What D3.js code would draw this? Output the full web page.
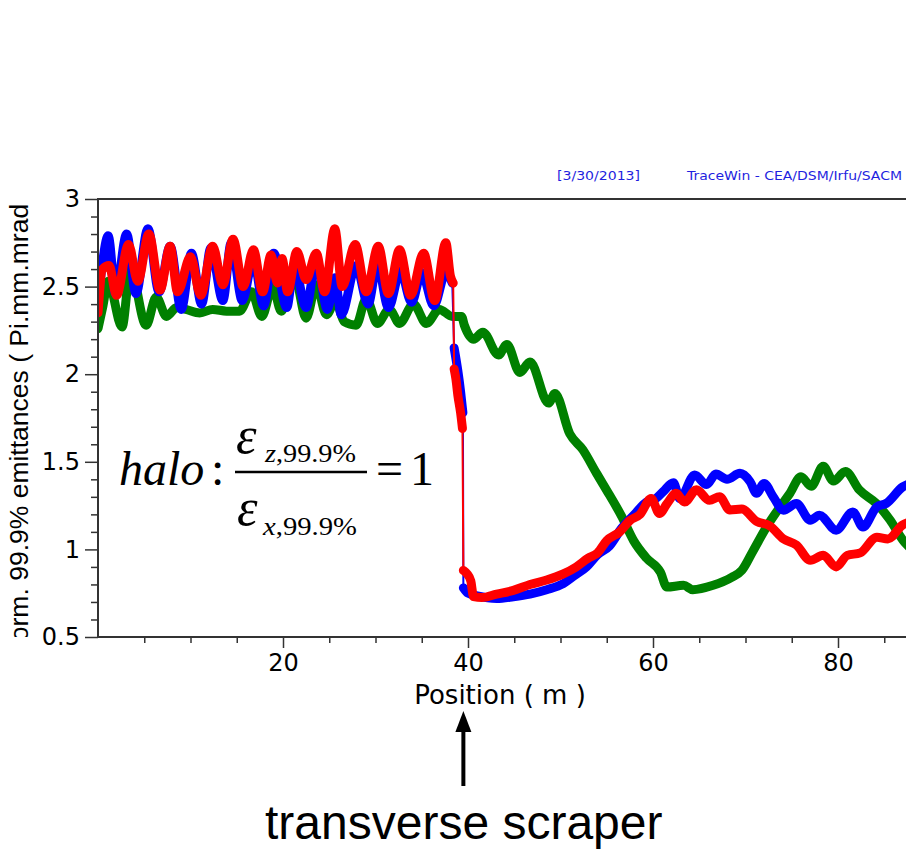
<!DOCTYPE html>
<html>
<head>
<meta charset="utf-8">
<script src="https://cdn.jsdelivr.net/npm/d3@7"></script>
<style>
  html, body { margin: 0; padding: 0; background: #fff; }
  svg { display: block; }
</style>
</head>
<body>
<script>
const width = 906;
const height = 852;

// emittance along the linac (position m, value pi.mm.mrad)
const greenZ = [[0,2.26],[0.5,2.38],[1.1,2.53],[2.6,2.27],[3.5,2.60],[5.2,2.28],[6.3,2.44],[7.4,2.33],[8.5,2.38],[9.5,2.37],[11,2.35],[12.4,2.37],[13.9,2.36],[15.3,2.36],[16.6,2.47],[17.7,2.33],[18.9,2.50],[19.8,2.36],[21.3,2.55],[22.5,2.32],[23.6,2.51],[24.7,2.34],[25.7,2.42],[26.6,2.30],[27.9,2.28],[29.0,2.43],[30.2,2.29],[31.5,2.37],[32.6,2.29],[34.1,2.40],[35.5,2.29],[36.9,2.37],[38.3,2.33],[39.3,2.33],[39.6,2.28],[40.6,2.2],[41.6,2.24],[43.3,2.11],[44.2,2.17],[45.6,2.01],[46.7,2.07],[48.7,1.835],[49.4,1.89],[51,1.66],[52.4,1.57],[53.9,1.434],[55.3,1.31],[56.6,1.19],[57.9,1.05],[59.3,0.95],[60.8,0.87],[61.5,0.785],[63.3,0.795],[64.3,0.77],[66.5,0.795],[68.5,0.84],[69.6,0.88],[70.8,0.99],[72.3,1.13],[73.7,1.24],[74.8,1.32],[76.0,1.415],[77.1,1.36],[78.4,1.475],[79.5,1.39],[80.8,1.445],[82.3,1.34],[84.2,1.26],[85.6,1.17],[87.2,1.04],[88,1.0]];

const blueMain = [[0,2.42],[0.4,2.6],[1.1,2.79],[1.9,2.46],[3.1,2.80],[4.1,2.46],[5.4,2.83],[6.6,2.47],[7.8,2.73],[9.0,2.37],[10.1,2.69],[11.2,2.40],[12.2,2.72],[13.5,2.42],[14.4,2.75],[15.6,2.42],[16.8,2.66],[17.9,2.39],[19.0,2.69],[20.4,2.38],[21.2,2.62],[22.5,2.38],[23.6,2.65],[24.8,2.37],[25.6,2.55],[26.3,2.34],[27.9,2.62],[29.2,2.40],[30.2,2.63],[31.4,2.38],[32.7,2.59],[33.9,2.41],[35.0,2.58],[36.3,2.39],[37.6,2.58],[38.3,2.52]];
const blueDrop = [[38.5,2.15],[38.9,2.02],[39.2,1.9],[39.45,1.78]];
const blueLow = [[39.5,0.78],[40.0,0.75],[41.0,0.735],[43.1,0.72],[44.9,0.73],[46.7,0.745],[48.5,0.77],[50.3,0.805],[51.5,0.85],[52.8,0.9],[54.0,0.97],[55.3,1.02],[56.6,1.12],[58.0,1.2],[59.3,1.27],[60.3,1.29],[61.1,1.33],[62.2,1.38],[62.9,1.29],[64.5,1.425],[65.8,1.37],[66.8,1.43],[68.0,1.40],[69.4,1.434],[70.5,1.386],[71.2,1.32],[72.0,1.376],[73.0,1.30],[74.1,1.224],[75.5,1.262],[77.0,1.167],[78.0,1.195],[79.8,1.11],[81.6,1.214],[82.7,1.128],[84.2,1.243],[85.2,1.262],[87.0,1.357],[88,1.38]];

const redMain = [[0,2.35],[0.5,2.6],[1.2,2.62],[2.0,2.45],[3.3,2.74],[4.3,2.53],[5.5,2.80],[6.7,2.48],[7.8,2.73],[8.6,2.47],[10.0,2.67],[11.1,2.45],[12.4,2.73],[13.5,2.51],[14.6,2.77],[15.7,2.50],[16.8,2.71],[17.8,2.47],[18.7,2.68],[19.4,2.52],[19.9,2.66],[20.5,2.47],[21.5,2.70],[22.5,2.54],[23.6,2.69],[24.5,2.47],[25.6,2.83],[26.4,2.50],[27.8,2.74],[29.0,2.47],[30.3,2.73],[31.4,2.46],[32.6,2.71],[33.8,2.45],[35.2,2.69],[36.4,2.42],[37.6,2.75],[38.1,2.56],[38.4,2.52]];
const redDrop = [[38.5,2.03],[38.7,1.97],[38.9,1.88],[39.2,1.78],[39.4,1.69]];
const redLow = [[39.5,0.88],[39.9,0.86],[40.3,0.82],[40.6,0.73],[41.5,0.725],[43.1,0.745],[44.9,0.766],[46.7,0.80],[48.5,0.825],[50.3,0.86],[51.7,0.90],[53.0,0.95],[54.0,0.98],[55.0,1.05],[56.4,1.10],[57.5,1.165],[58.6,1.2],[59.8,1.29],[60.7,1.205],[61.5,1.26],[62.5,1.32],[63.4,1.27],[64.7,1.34],[66.1,1.28],[67.2,1.30],[68.3,1.225],[69.6,1.23],[71.2,1.16],[72.6,1.135],[74.1,1.06],[75.5,1.025],[77.0,0.938],[78.4,0.966],[79.8,0.90],[81.0,0.966],[82.4,0.98],[84.2,1.07],[85.4,1.06],[87.0,1.14],[88,1.16]];

const series = [
  {color: "#008000", parts: [greenZ]},
  {color: "#0000ff", parts: [blueMain, blueDrop, blueLow]},
  {color: "#ff0000", parts: [redMain, redDrop, redLow]}
];

const xMajor = [20, 40, 60, 80];
const xMinor = d3.range(5, 90, 5).filter(d => d % 20 !== 0);
const yMajor = [0.5, 1, 1.5, 2, 2.5, 3];
const yMinor = d3.range(6, 30).map(d => d / 10).filter(d => Math.round(d * 10) % 5 !== 0);

const x = d3.scaleLinear().domain([0, 88]).range([98, 912]);
const y = d3.scaleLinear().domain([0.5, 3]).range([637, 199]);

const svg = d3.select("body").append("svg")
  .attr("width", width)
  .attr("height", height);

svg.append("defs").append("clipPath").attr("id", "plot")
  .append("rect")
  .attr("x", x(0)).attr("y", y(3) - 6)
  .attr("width", width - x(0)).attr("height", y(0.5) - y(3) + 6);

svg.select("defs").append("clipPath").attr("id", "ylab")
  .append("rect")
  .attr("x", 0).attr("y", y(3))
  .attr("width", 60).attr("height", y(0.5) - y(3));

// data
const thick = d3.line().x(d => x(d[0])).y(d => y(d[1])).curve(d3.curveMonotoneX);
const thin = d3.line().x(d => x(d[0])).y(d => y(d[1]));

const gData = svg.append("g").attr("clip-path", "url(#plot)");
series.forEach(s => {
  gData.append("path")
    .attr("d", thin(s.parts.flat()))
    .attr("fill", "none")
    .attr("stroke", s.color)
    .attr("stroke-width", 2);
  s.parts.forEach(p => {
    gData.append("path")
      .attr("d", thick(p))
      .attr("fill", "none")
      .attr("stroke", s.color)
      .attr("stroke-width", 9)
      .attr("stroke-linejoin", "round")
      .attr("stroke-linecap", "round");
  });
});

// axes
const axisColor = "#333";
const gx = svg.append("g").attr("transform", `translate(0,${y(0.5)})`);
gx.call(d3.axisBottom(x).tickValues(xMinor).tickSize(6).tickFormat(""));
gx.call(g => g.selectAll(".domain").remove());
const gx2 = svg.append("g").attr("transform", `translate(0,${y(0.5)})`);
gx2.call(d3.axisBottom(x).tickValues(xMajor).tickSize(11).tickPadding(6).tickSizeOuter(0));
gx2.select(".domain").remove();
gx2.selectAll("text")
  .attr("font-family", "DejaVu Sans")
  .attr("font-size", 24)
  .attr("fill", "#000")
  .attr("dy", "0.71em");

const gy = svg.append("g").attr("transform", `translate(${x(0)},0)`);
gy.call(d3.axisLeft(y).tickValues(yMinor).tickSize(7).tickFormat(""));
gy.select(".domain").remove();
const gy2 = svg.append("g").attr("transform", `translate(${x(0)},0)`);
gy2.call(d3.axisLeft(y).tickValues(yMajor).tickSize(13).tickPadding(5).tickFormat(d => String(d)));
gy2.select(".domain").remove();
gy2.selectAll("text")
  .attr("font-family", "DejaVu Sans")
  .attr("font-size", 24)
  .attr("fill", "#000");

svg.selectAll(".tick line").attr("stroke", axisColor).attr("stroke-width", 1.5);

// frame: left, bottom, top
svg.append("path")
  .attr("d", `M${width},${y(3)}H${x(0)}V${y(0.5)}H${width}`)
  .attr("fill", "none")
  .attr("stroke", axisColor)
  .attr("stroke-width", 2);

// axis titles
svg.append("text")
  .attr("x", 500).attr("y", 704)
  .attr("text-anchor", "middle")
  .attr("font-family", "DejaVu Sans")
  .attr("font-size", 26)
  .text("Position ( m )");

svg.append("g").attr("clip-path", "url(#ylab)")
  .append("text")
  .attr("transform", `translate(28,${(y(3) + y(0.5)) / 2 + 6}) rotate(-90)`)
  .attr("text-anchor", "middle")
  .attr("font-family", "Liberation Sans")
  .attr("font-size", 26.5)
  .text("Norm. 99.9% emittances ( Pi.mm.mrad )");

// header
svg.append("text")
  .attr("x", 557).attr("y", 180)
  .attr("font-family", "DejaVu Sans").attr("font-size", 13)
  .attr("fill", "#1f1fe0")
  .attr("textLength", 83).attr("lengthAdjust", "spacingAndGlyphs")
  .text("[3/30/2013]");
svg.append("text")
  .attr("x", 687).attr("y", 180)
  .attr("font-family", "DejaVu Sans").attr("font-size", 13)
  .attr("fill", "#1f1fe0")
  .attr("textLength", 215).attr("lengthAdjust", "spacingAndGlyphs")
  .text("TraceWin - CEA/DSM/Irfu/SACM");

// halo formula
const serif = "Liberation Serif, Times New Roman, serif";
const f = svg.append("g").attr("font-family", serif).attr("fill", "#000");
f.append("text").attr("x", 119).attr("y", 485).attr("font-size", 48).attr("font-style", "italic").text("halo");
f.append("text").attr("x", 211).attr("y", 485).attr("font-size", 48).text(":");
f.append("line").attr("x1", 235).attr("x2", 367).attr("y1", 472).attr("y2", 472)
  .attr("stroke", "#000").attr("stroke-width", 2.5);
f.append("text").attr("x", 236).attr("y", 453).attr("font-size", 52).attr("font-style", "italic").text("ε");
const num = f.append("text").attr("x", 265).attr("y", 462).attr("font-size", 25)
  .attr("textLength", 91).attr("lengthAdjust", "spacingAndGlyphs");
num.append("tspan").attr("font-style", "italic").text("z");
num.append("tspan").text(",99.9%");
f.append("text").attr("x", 237).attr("y", 525).attr("font-size", 52).attr("font-style", "italic").text("ε");
const den = f.append("text").attr("x", 263).attr("y", 535).attr("font-size", 25)
  .attr("textLength", 94).attr("lengthAdjust", "spacingAndGlyphs");
den.append("tspan").attr("font-style", "italic").text("x");
den.append("tspan").text(",99.9%");
f.append("text").attr("x", 376).attr("y", 485).attr("font-size", 48).text("=");
f.append("text").attr("x", 410).attr("y", 485).attr("font-size", 48).text("1");

// scraper arrow
const ax = x(39.5);
svg.append("line")
  .attr("x1", ax).attr("x2", ax).attr("y1", 728).attr("y2", 786)
  .attr("stroke", "#000").attr("stroke-width", 4);
svg.append("path")
  .attr("d", d3.line()([[ax, 711], [ax - 8, 732], [ax + 8, 732]]) + "Z")
  .attr("fill", "#000");

svg.append("text")
  .attr("x", 265).attr("y", 839)
  .attr("font-family", "Liberation Sans")
  .attr("font-size", 48)
  .text("transverse scraper");
</script>
</body>
</html>
